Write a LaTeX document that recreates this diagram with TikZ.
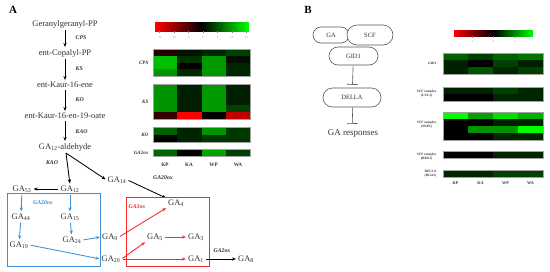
\documentclass[tikz,border=0pt]{standalone}
\usepackage{fontspec}
\setmainfont{Liberation Serif}
\usetikzlibrary{arrows.meta,positioning}
\definecolor{pathblue}{HTML}{3B8FD6}
\definecolor{pathred}{HTML}{F52A2A}
\definecolor{outlinegray}{HTML}{555555}
\definecolor{textgray}{HTML}{333333}
\definecolor{framegray}{HTML}{A0A0A0}

\newcommand{\GAsub}[1]{GA\textsubscript{#1}}
% one heatmap row: x0, y top, cell width, cell height, colours
\newcommand{\heatrow}[5]{%
  \foreach \hue [count=\ci from 0] in {#5}
    \fill[\hue] ({#1+\ci*#3},#2) rectangle ++(#3,#4);}

\tikzset{
  compound/.style={inner sep=1pt, text=textgray, font=\fontsize{8.5}{10}\selectfont},
  enzyme/.style={inner sep=0.5pt, text=textgray, font=\fontsize{5.8}{6.5}\selectfont\bfseries\itshape},
  stepline/.style={-{Stealth[length=4pt,width=3.2pt]}, line width=0.85pt, shorten <=1pt, shorten >=1pt},
  bluestep/.style={stepline, pathblue},
  redstep/.style={stepline, pathred},
  complexbox/.style={draw=outlinegray, fill=white, line width=0.6pt, rounded corners=8pt,
    text=textgray, font=\fontsize{6.5}{7.5}\selectfont, inner sep=0pt},
  blocker/.style={-{Bar[width=11pt,line width=0.6pt]}, draw=outlinegray, line width=0.6pt},
  rowlabel/.style={anchor=east, inner sep=0.5pt, align=center, text=textgray,
    font=\fontsize{5}{6}\selectfont\bfseries\itshape},
  generow/.style={anchor=east, inner sep=0.5pt, align=center, text=textgray,
    font=\fontsize{3.4}{3.8}\selectfont\bfseries},
  collabel/.style={inner sep=0.5pt, text=textgray, font=\fontsize{5.2}{6}\selectfont\bfseries},
  ticklabel/.style={inner sep=0pt, text=gray, font=\fontsize{2.6}{3}\selectfont},
  blockframe/.style={draw=framegray, line width=0.3pt},
  panel/.style={inner sep=0pt, font=\fontsize{11}{12}\selectfont\bfseries}
}

\begin{document}
\begin{tikzpicture}[x=1pt, y=-1pt]
  \useasboundingbox[fill=white] (0,0) rectangle (550,271);

  % ---------------- panel A ----------------
  \node[panel] (labA) at (13,10) {A};

  \node[compound] (gerpp) at (65,24) {Geranylgeranyl-PP};
  \node[compound] (copalyl) at (65,53) {ent-Copalyl-PP};
  \node[compound] (kaurene) at (65,85) {ent-Kaur-16-ene};
  \node[compound] (kaurenoate) at (65,116) {ent-Kaur-16-en-19-oate};
  \node[compound] (gaald) at (65,147) {\GAsub{12}-aldehyde};

  \draw[stepline] (gerpp) -- (copalyl);
  \draw[stepline] (copalyl) -- (kaurene);
  \draw[stepline] (kaurene) -- (kaurenoate);
  \draw[stepline] (kaurenoate) -- (gaald);
  \node[enzyme, anchor=west] (cps) at (75,38) {CPS};
  \node[enzyme, anchor=west] (ks) at (75,69) {KS};
  \node[enzyme, anchor=west] (ko) at (75,100) {KO};
  \node[enzyme, anchor=west] (kao) at (75,132) {KAO};

  % GA branches
  \node[compound] (ga12) at (70,189) {\GAsub{12}};
  \node[compound] (ga14) at (117,180) {\GAsub{14}};
  \node[compound] (ga53) at (22,189) {\GAsub{53}};
  \node[compound] (ga44) at (21,217) {\GAsub{44}};
  \node[compound] (ga15) at (70,217) {\GAsub{15}};
  \node[compound] (ga19) at (19,245) {\GAsub{19}};
  \node[compound] (ga24) at (72,240) {\GAsub{24}};
  \node[compound] (ga9) at (110,237) {\GAsub{9}};
  \node[compound] (ga20) at (111,259) {\GAsub{20}};
  \node[compound] (ga4) at (176,203) {\GAsub{4}};
  \node[compound] (ga5) at (155,237) {\GAsub{5}};
  \node[compound] (ga3) at (196,237) {\GAsub{3}};
  \node[compound] (ga1) at (196,259) {\GAsub{1}};
  \node[compound] (ga8) at (246,259) {\GAsub{8}};

  \coordinate (fork) at ([xshift=1pt,yshift=-1pt]gaald.south);
  \draw[stepline, shorten <=0pt] (fork) -- (ga12.north);
  \draw[stepline, shorten <=0pt] (fork) -- (ga14.west);
  \node[enzyme] (kaob) at (52,163) {KAO};
  \draw[stepline] (ga12) -- (ga53);
  \draw[stepline] (ga14.east) -- (ga4.north west);
  \node[enzyme] (ox20) at (163,178) {GA20ox};

  % GA20ox box
  \draw[pathblue, line width=0.8pt] (7,193) rectangle (100,266);
  \node[enzyme, text=pathblue] (ox20b) at (43,203) {GA20ox};
  \draw[bluestep] (ga53) -- (ga44);
  \draw[bluestep] (ga44) -- (ga19);
  \draw[bluestep] (ga12) -- (ga15);
  \draw[bluestep] (ga15) -- (ga24);
  \draw[bluestep] (ga24.east) -- (ga9.west);
  \draw[bluestep] (ga19.east) -- (ga20.west);

  % GA3ox box
  \draw[pathred, line width=0.8pt] (126,197) rectangle (209,266);
  \node[enzyme, text=pathred] (ox3) at (137,207) {GA3ox};
  \draw[redstep] (ga9.east) -- (ga4.south west);
  \draw[redstep] (ga20.east) -- (ga5.south west);
  \draw[redstep] (ga5) -- (ga3);
  \draw[redstep] (ga20.east) -- (ga1.west);
  \draw[stepline] (ga1) -- (ga8);
  \node[enzyme] (ox2) at (222,251) {GA2ox};

  % heatmap A
  \shade[left color=red, right color=green, middle color=black] (155,22) rectangle (249,31);
  \foreach \tx/\tl in {159.5/-15,174/-10,188.5/-5,203/0,217.5/5,232/10,246.5/15} {
    \draw[gray, line width=0.3pt] (\tx,31) -- (\tx,33);
    \node[ticklabel] at (\tx,37.5) {\tl};
  }

  % CPS
  \heatrow{153}{49}{24.25}{6.75}{red!15!black, green!8!black, green!15!black, green!25!black}
  \heatrow{153}{55.75}{24.25}{6.75}{green!75!black, green!20!black, green!60!black, green!6!black}
  \heatrow{153}{62.5}{24.25}{6.75}{green!75!black, black, green!60!black, green!15!black}
  \heatrow{153}{69.25}{24.25}{6.75}{green!58!black, green!16!black, green!60!black, green!15!black}
  \draw[blockframe] (153,49) rectangle (250,76);
  % KS
  \foreach \ry in {84,91,98} {
    \heatrow{153}{\ry}{24.25}{7}{green!58!black, green!12!black, green!60!black, green!12!black}
  }
  \heatrow{153}{105}{24.25}{7}{green!58!black, green!12!black, green!60!black, green!25!black}
  \heatrow{153}{112}{24.25}{7}{red!20!black, red, black, red!75!black}
  \draw[blockframe] (153,84) rectangle (250,119);
  % KO
  \heatrow{153}{127}{24.25}{7.5}{green!38!black, green!14!black, green!58!black, green!22!black}
  \heatrow{153}{134.5}{24.25}{7.5}{black, green!14!black, green!22!black, green!22!black}
  \draw[blockframe] (153,127) rectangle (250,142);
  % GA2ox
  \heatrow{153}{149}{24.25}{7}{green!40!black, black, green!65!black, green!25!black}
  \draw[blockframe] (153,149) rectangle (250,156);

  \node[rowlabel] (hcps) at (149,62.5) {CPS};
  \node[rowlabel] (hks) at (149,101.5) {KS};
  \node[rowlabel] (hko) at (149,134.5) {KO};
  \node[rowlabel] (hox) at (149,152.5) {GA2ox};
  \foreach \cx/\cl in {165/KP,189/KA,213.5/WP,238/WA}
    \node[collabel] at (\cx,165) {\cl};

  % ---------------- panel B ----------------
  \node[panel] (labB) at (308,10) {B};

  \node[complexbox, minimum width=36pt, minimum height=16pt] (ga) at (331,35) {GA};
  \node[complexbox, minimum width=46pt, minimum height=20pt, rounded corners=10pt] (scf) at (370,35) {SCF};
  \node[complexbox, minimum width=49pt, minimum height=18pt, rounded corners=9pt] (gid) at (353.5,56) {GID1};
  \node[complexbox, minimum width=58pt, minimum height=19pt, rounded corners=9.5pt] (della) at (352,97.5) {DELLA};
  \node[compound, font=\fontsize{9}{10}\selectfont] (resp) at (353,133) {GA responses};
  \draw[blocker, shorten >=3pt] (gid) -- (della);
  \draw[blocker, shorten >=4pt] (della) -- (resp);

  % heatmap B
  \shade[left color=red, right color=green, middle color=black] (454,30) rectangle (533,36);
  \foreach \tx/\tl in {472/-5,493.5/0,515/5} {
    \draw[gray, line width=0.3pt] (\tx,36) -- (\tx,38);
    \node[ticklabel] at (\tx,41.5) {\tl};
  }

  % GID1
  \heatrow{443}{53}{25}{7}{green!38!black, green!25!black, green!38!black, green!45!black}
  \heatrow{443}{60}{25}{7}{green!13!black, black, green!25!black, green!13!black}
  \heatrow{443}{67}{25}{7}{green!13!black, green!33!black, green!15!black, green!25!black}
  \draw[blockframe] (443,53) rectangle (543,74);
  % CUL1
  \heatrow{443}{87}{25}{7}{green!13!black, green!13!black, green!25!black, green!15!black}
  \heatrow{443}{94}{25}{7}{black, black, green!15!black, green!15!black}
  \draw[blockframe] (443,87) rectangle (543,101);
  % SKP1
  \heatrow{443}{112}{25}{7}{green, green!63!black, green!88!black, green!70!black}
  \heatrow{443}{119}{25}{7}{black, black, green!13!black, green!13!black}
  \heatrow{443}{126}{25}{7}{black, green!58!black, green!58!black, green}
  \heatrow{443}{133}{25}{7}{black, black, green!15!black, green!15!black}
  \draw[blockframe] (443,112) rectangle (543,140);
  % RBX1
  \heatrow{443}{151}{25}{7}{black, black, green!15!black, green!15!black}
  \draw[blockframe] (443,151) rectangle (543,158);
  % DELLA
  \heatrow{443}{170}{25}{7}{green!15!black, green!15!black, green!25!black, green!25!black}
  \draw[blockframe] (443,170) rectangle (543,177);

  \node[generow] (hgid) at (437,63.5) {GID1};
  \node[generow] (hcul) at (437,94) {SCF complex\\(CUL1)};
  \node[generow] (hskp) at (437,125) {SCF complex\\(SKP1)};
  \node[generow] (hrbx) at (437,157) {SCF complex\\(RBX1)};
  \node[generow] (hdel) at (437,174) {DELLA\\(RGA1)};
  \foreach \cx/\cl in {455.5/KP,480.5/KA,505.5/WP,530.5/WA}
    \node[collabel, font=\fontsize{4.2}{5}\selectfont\bfseries] at (\cx,183.5) {\cl};
\end{tikzpicture}
\end{document}
